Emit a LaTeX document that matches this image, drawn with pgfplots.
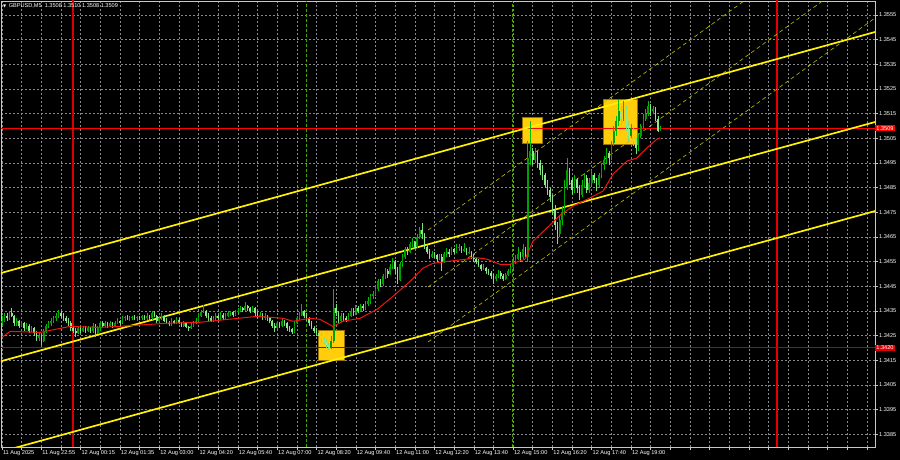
\documentclass[border=0pt]{standalone}
\usepackage{fontspec}
\setmainfont{Liberation Sans}
\newfontfamily\dejavu{DejaVu Sans}
\usepackage{pgfplots}
\usepackage{pgfplotstable}
\pgfplotsset{compat=1.18}
\definecolor{bullbody}{RGB}{0,160,0}
\definecolor{bearbody}{RGB}{140,235,140}
\definecolor{bullwick}{RGB}{0,190,0}
\definecolor{bearwick}{RGB}{120,225,120}
\definecolor{gridgray}{RGB}{135,135,140}
\definecolor{framegray}{RGB}{200,200,200}
\definecolor{boxfill}{RGB}{255,205,10}
\definecolor{boxdraw}{RGB}{150,115,0}
\definecolor{dashyel}{RGB}{190,190,0}
\definecolor{sessgreen}{RGB}{70,165,0}
\definecolor{lvlred}{RGB}{255,0,0}
\definecolor{lvldark}{RGB}{190,0,0}
\definecolor{vredA}{RGB}{215,0,0}
\definecolor{vredB}{RGB}{230,0,0}
\definecolor{tagred}{RGB}{225,0,0}
\definecolor{mared}{RGB}{240,20,20}

\pgfplotstableread{
n o h l c
0 1.3430 1.3433 1.3429 1.3431
1 1.3431 1.3434 1.34305 1.3433
2 1.3433 1.3434 1.3431 1.3432
3 1.3432 1.3435 1.34315 1.3434
4 1.3434 1.3436 1.34325 1.3433
5 1.3433 1.34335 1.3429 1.3430
6 1.3430 1.3432 1.3429 1.3431
7 1.3431 1.34315 1.3428 1.3429
8 1.3429 1.3431 1.34285 1.3430
9 1.3430 1.34305 1.3427 1.3428
10 1.3428 1.3430 1.34275 1.3429
11 1.3429 1.34295 1.3426 1.3427
12 1.3427 1.3429 1.34265 1.3428
13 1.3428 1.34285 1.3425 1.3426
14 1.3426 1.3427 1.3423 1.3424
15 1.3424 1.3426 1.3423 1.3425
16 1.3425 1.34255 1.3421 1.3423
17 1.3423 1.34275 1.34225 1.3427
18 1.3427 1.34295 1.3426 1.3429
19 1.3429 1.3431 1.3428 1.3430
20 1.3430 1.3432 1.3429 1.3431
21 1.3431 1.3433 1.3430 1.3432
22 1.3432 1.3434 1.3431 1.3433
23 1.3433 1.34355 1.3432 1.3434
24 1.3434 1.3435 1.3432 1.3433
25 1.3433 1.3434 1.3431 1.3432
26 1.3432 1.3433 1.3430 1.3431
27 1.3431 1.3432 1.3429 1.3430
28 1.3430 1.3431 1.3427 1.3428
29 1.3428 1.3429 1.3426 1.3427
30 1.3427 1.3428 1.34245 1.3426
31 1.3426 1.3429 1.34255 1.3428
32 1.3428 1.3429 1.3426 1.3427
33 1.3427 1.3429 1.34265 1.3428
34 1.3428 1.3429 1.3426 1.3427
35 1.3427 1.3429 1.34265 1.3428
36 1.3428 1.34285 1.3426 1.3427
37 1.3427 1.3430 1.3426 1.3429
38 1.3429 1.34295 1.34245 1.3426
39 1.3426 1.3429 1.34255 1.3428
40 1.3428 1.3431 1.3427 1.3430
41 1.3430 1.3431 1.3428 1.3429
42 1.3429 1.3431 1.34285 1.3430
43 1.3430 1.34305 1.3428 1.3429
44 1.3429 1.3431 1.34285 1.3430
45 1.3430 1.34305 1.3428 1.3429
46 1.3429 1.3431 1.34285 1.3430
47 1.3430 1.3432 1.34295 1.3431
48 1.3431 1.34315 1.3429 1.3430
49 1.3430 1.3433 1.34295 1.3432
50 1.3432 1.3433 1.3431 1.34325
51 1.34325 1.34335 1.34315 1.34320
52 1.34320 1.3433 1.3431 1.3432
53 1.3432 1.3433 1.34315 1.34325
54 1.34325 1.34335 1.34315 1.3432
55 1.3432 1.3433 1.3431 1.34325
56 1.34325 1.3433 1.34315 1.3432
57 1.3432 1.34335 1.34315 1.3433
58 1.3433 1.34335 1.34315 1.3432
59 1.3432 1.3434 1.34315 1.3433
60 1.3433 1.34335 1.3431 1.3432
61 1.3432 1.3435 1.34315 1.3434
62 1.3434 1.3435 1.34325 1.3433
63 1.3433 1.34335 1.3430 1.3431
64 1.3431 1.3433 1.34305 1.3432
65 1.3432 1.3434 1.34315 1.3433
66 1.3433 1.34335 1.34305 1.3431
67 1.3431 1.3432 1.34295 1.3430
68 1.3430 1.3431 1.3429 1.34295
69 1.34295 1.3432 1.3429 1.3431
70 1.3431 1.34315 1.34295 1.3430
71 1.3430 1.34325 1.34295 1.34315
72 1.34315 1.3432 1.34295 1.3430
73 1.3430 1.34305 1.34285 1.3429
74 1.3429 1.3431 1.34285 1.3430
75 1.3430 1.34305 1.3428 1.34285
76 1.34285 1.3429 1.3427 1.3428
77 1.3428 1.3430 1.34275 1.3429
78 1.3429 1.3431 1.34285 1.3430
79 1.3430 1.3432 1.34295 1.3431
80 1.3431 1.3434 1.34305 1.3433
81 1.3433 1.34355 1.34325 1.34345
82 1.34345 1.34375 1.3434 1.3435
83 1.3435 1.34355 1.3432 1.3433
84 1.3433 1.3434 1.3431 1.3432
85 1.3432 1.3433 1.34305 1.3431
86 1.3431 1.3433 1.34305 1.3432
87 1.3432 1.3434 1.34315 1.3433
88 1.3433 1.34335 1.3431 1.3432
89 1.3432 1.34345 1.34315 1.34335
90 1.34335 1.3434 1.34315 1.3432
91 1.3432 1.3434 1.34315 1.3433
92 1.3433 1.3435 1.34325 1.3434
93 1.3434 1.3435 1.3433 1.34345
94 1.34345 1.3435 1.34325 1.34335
95 1.34335 1.34355 1.3433 1.34345
96 1.34345 1.3436 1.3434 1.3435
97 1.3435 1.3437 1.34345 1.3436
98 1.3436 1.34365 1.34345 1.34355
99 1.34355 1.34385 1.3435 1.3437
100 1.3437 1.34375 1.3435 1.3436
101 1.3436 1.34365 1.3434 1.3435
102 1.3435 1.3437 1.34345 1.3436
103 1.3436 1.34365 1.3433 1.3434
104 1.3434 1.3435 1.3432 1.3433
105 1.3433 1.34345 1.34325 1.34335
106 1.34335 1.3434 1.34315 1.3432
107 1.3432 1.3434 1.34315 1.3433
108 1.3433 1.34335 1.3431 1.3432
109 1.3432 1.34325 1.3430 1.3431
110 1.3431 1.34315 1.3428 1.3429
111 1.3429 1.3430 1.34265 1.3428
112 1.3428 1.3431 1.34275 1.3430
113 1.3430 1.34305 1.3428 1.3429
114 1.3429 1.3432 1.34285 1.3431
115 1.3431 1.34315 1.3429 1.3430
116 1.3430 1.34305 1.3427 1.3428
117 1.3428 1.3429 1.34265 1.34275
118 1.34275 1.3428 1.34255 1.34265
119 1.34265 1.3431 1.3426 1.3430
120 1.3430 1.3433 1.34295 1.3432
121 1.3432 1.34345 1.34315 1.34335
122 1.34335 1.3438 1.3433 1.3435
123 1.3435 1.34355 1.3432 1.3433
124 1.3433 1.3434 1.3431 1.3432
125 1.3432 1.34325 1.3429 1.3430
126 1.3430 1.3431 1.34275 1.3428
127 1.3428 1.3429 1.3426 1.3427
128 1.3427 1.3428 1.3425 1.3426
129 1.3426 1.3427 1.3424 1.3425
130 1.3425 1.3426 1.34225 1.34235
131 1.34235 1.34245 1.34215 1.34225
132 1.34225 1.34235 1.3420 1.3421
133 1.3421 1.3422 1.34192 1.3420
134 1.3420 1.3425 1.34195 1.3423
135 1.3423 1.3444 1.3422 1.3436
136 1.3436 1.3438 1.3433 1.3434
137 1.3434 1.3435 1.3430 1.3431
138 1.3431 1.3434 1.34305 1.3433
139 1.3433 1.3434 1.3431 1.3432
140 1.3432 1.3433 1.34305 1.34315
141 1.34315 1.3434 1.3431 1.3433
142 1.3433 1.3436 1.34325 1.3435
143 1.3435 1.3436 1.3433 1.3434
144 1.3434 1.34375 1.34335 1.3436
145 1.3436 1.3437 1.3434 1.3435
146 1.3435 1.3438 1.34345 1.3437
147 1.3437 1.3438 1.3435 1.3436
148 1.3436 1.3439 1.34355 1.3438
149 1.3438 1.34405 1.3437 1.3439
150 1.3439 1.3442 1.3438 1.3441
151 1.3441 1.3443 1.3440 1.3442
152 1.3442 1.3445 1.3441 1.3444
153 1.3444 1.3448 1.3443 1.3447
154 1.3447 1.3448 1.34445 1.3446
155 1.3446 1.3450 1.3445 1.3449
156 1.3449 1.34525 1.3448 1.3451
157 1.3451 1.3452 1.34485 1.3450
158 1.3450 1.3454 1.34495 1.3453
159 1.3453 1.34565 1.3452 1.3455
160 1.3455 1.34555 1.3450 1.3452
161 1.3452 1.3453 1.3446 1.34475
162 1.34475 1.3455 1.3447 1.3454
163 1.3454 1.3458 1.3453 1.3457
164 1.3457 1.3461 1.3456 1.3460
165 1.3460 1.3461 1.34575 1.3459
166 1.3459 1.3463 1.34585 1.3462
167 1.3462 1.34645 1.3461 1.3463
168 1.3463 1.34635 1.3460 1.3461
169 1.3461 1.3466 1.34605 1.3465
170 1.3465 1.3469 1.3464 1.3468
171 1.3468 1.34705 1.3464 1.3466
172 1.3466 1.34665 1.3460 1.3461
173 1.3461 1.3462 1.3458 1.3459
174 1.3459 1.3460 1.3456 1.3457
175 1.3457 1.34595 1.34565 1.3458
176 1.3458 1.3459 1.34565 1.34575
177 1.34575 1.3458 1.3455 1.3456
178 1.3456 1.3458 1.34555 1.3457
179 1.3457 1.3458 1.3451 1.3455
180 1.3455 1.3459 1.34545 1.3458
181 1.3458 1.34605 1.3457 1.3459
182 1.3459 1.3460 1.3457 1.3458
183 1.3458 1.3461 1.34575 1.3460
184 1.3460 1.34605 1.3458 1.3459
185 1.3459 1.3462 1.34585 1.34605
186 1.34605 1.3462 1.34595 1.3461
187 1.3461 1.34615 1.34585 1.34595
188 1.34595 1.34625 1.3459 1.3460
189 1.3460 1.34605 1.34575 1.34585
190 1.34585 1.3461 1.3458 1.3459
191 1.3459 1.34595 1.3456 1.3457
192 1.3457 1.3458 1.3455 1.3456
193 1.3456 1.3457 1.3454 1.3455
194 1.3455 1.3456 1.3453 1.34535
195 1.34535 1.3454 1.3451 1.3452
196 1.3452 1.3454 1.34515 1.34525
197 1.34525 1.3453 1.3450 1.3451
198 1.3451 1.3452 1.34495 1.34505
199 1.34505 1.3451 1.3448 1.3449
200 1.3449 1.3450 1.3446 1.3448
201 1.3448 1.3450 1.3447 1.3449
202 1.3449 1.34515 1.34485 1.34505
203 1.34505 1.3451 1.3448 1.3449
204 1.3449 1.3450 1.3447 1.3448
205 1.3448 1.34505 1.34475 1.34495
206 1.34495 1.3452 1.3449 1.3451
207 1.3451 1.3454 1.34505 1.3453
208 1.3453 1.3456 1.3452 1.3455
209 1.3455 1.34575 1.3454 1.3456
210 1.3456 1.3461 1.34555 1.3458
211 1.3458 1.3459 1.3455 1.3457
212 1.3457 1.3462 1.3456 1.3460
213 1.3460 1.3461 1.3456 1.3457
214 1.3457 1.3504 1.3455 1.3497
215 1.3497 1.3512 1.3494 1.3500
216 1.3500 1.3501 1.3494 1.3496
217 1.3496 1.3501 1.3495 1.3499
218 1.3499 1.3500 1.3493 1.3495
219 1.3495 1.3496 1.3490 1.3492
220 1.3492 1.3494 1.3488 1.3490
221 1.3490 1.3491 1.3485 1.3486
222 1.3486 1.3488 1.3482 1.3484
223 1.3484 1.3485 1.3479 1.3481
224 1.3481 1.3482 1.3474 1.3476
225 1.3476 1.3478 1.3468 1.3470
226 1.3470 1.3471 1.3462 1.3466
227 1.3466 1.3474 1.3465 1.3472
228 1.3472 1.3477 1.3470 1.3475
229 1.3475 1.3488 1.3474 1.3485
230 1.3485 1.3497 1.3484 1.3492
231 1.3492 1.3493 1.3486 1.3488
232 1.3488 1.3489 1.3482 1.3484
233 1.3484 1.3490 1.3483 1.3488
234 1.3488 1.3489 1.3483 1.3485
235 1.3485 1.3486 1.3480 1.3482
236 1.3482 1.3488 1.3481 1.3486
237 1.3486 1.3491 1.3485 1.3489
238 1.3489 1.3490 1.3483 1.3484
239 1.3484 1.3489 1.3483 1.3487
240 1.3487 1.3492 1.3486 1.3490
241 1.3490 1.3491 1.3487 1.3488
242 1.3488 1.3489 1.34835 1.3486
243 1.3486 1.3491 1.3485 1.3490
244 1.3490 1.3495 1.3489 1.3494
245 1.3494 1.3498 1.3492 1.3496
246 1.3496 1.3501 1.3495 1.3499
247 1.3499 1.3500 1.3494 1.3497
248 1.3497 1.3504 1.3496 1.3503
249 1.3503 1.3510 1.3502 1.3508
250 1.3508 1.3514 1.3506 1.3512
251 1.3512 1.3521 1.3510 1.3516
252 1.3516 1.3518 1.3510 1.3513
253 1.3513 1.3520 1.3512 1.3517
254 1.3517 1.3518 1.3508 1.3510
255 1.3510 1.3512 1.3504 1.3506
256 1.3506 1.3511 1.3505 1.3509
257 1.3509 1.3510 1.3502 1.3504
258 1.3504 1.3505 1.34985 1.3501
259 1.3501 1.3507 1.3500 1.3506
260 1.3506 1.3511 1.3505 1.3510
261 1.3510 1.3515 1.3509 1.3513
262 1.3513 1.3517 1.3512 1.3515
263 1.3515 1.3520 1.3514 1.3518
264 1.3518 1.3519 1.3514 1.3516
265 1.3516 1.3518 1.3515 1.3517
266 1.3517 1.35175 1.3512 1.3513
267 1.3513 1.3514 1.35075 1.3508
268 1.3508 1.3510 1.3508 1.3509
}\candles

\begin{document}
\begin{tikzpicture}
\useasboundingbox (0,0) rectangle (900pt,460pt);
\fill[black] (0,0) rectangle (900pt,460pt);
\begin{axis}[
  at={(1pt,13pt)}, anchor=south west,
  scale only axis, width=874pt, height=446pt,
  xmin=-0.41, xmax=355.3,
  ymin=1.337982, ymax=1.356068,
  clip mode=individual,
  no markers,
  axis background/.style={fill=black},
  axis line style={draw=framegray, line width=0.7pt},
  /pgf/number format/assume math mode=true,
  xtick pos=left, ytick pos=right,
  xticklabel pos=left, yticklabel pos=right,
  tick align=outside,
  major tick length=3pt, minor tick length=3pt,
  tick style={draw=framegray, line width=0.5pt},
  ytick={1.3385,1.3395,1.3405,1.3415,1.3425,1.3435,1.3445,1.3455,1.3465,1.3475,1.3485,1.3495,1.3505,1.3515,1.3525,1.3535,1.3545,1.3555},
  yticklabel style={font=\fontsize{5.6}{6.5}\selectfont, text=white, inner sep=1pt,
    /pgf/number format/.cd, fixed, fixed zerofill, precision=4, 1000 sep={}},
  xtick={0,16,...,352},
  minor xtick={8,24,...,344},
  xticklabels={11 Aug 2025,11 Aug 22:55,12 Aug 00:15,12 Aug 01:35,12 Aug 03:00,12 Aug 04:20,12 Aug 05:40,12 Aug 07:00,12 Aug 08:20,12 Aug 09:40,12 Aug 11:00,12 Aug 12:20,12 Aug 13:40,12 Aug 15:00,12 Aug 16:20,12 Aug 17:40,12 Aug 19:00,,,,,,},
  xticklabel style={font=\fontsize{5.6}{6.5}\selectfont, text=white, anchor=north west, inner sep=0.8pt},
  grid=both,
  major grid style={draw=gridgray, dash pattern=on 2pt off 2pt, line width=0.5pt},
  minor grid style={draw=gridgray, dash pattern=on 2pt off 2pt, line width=0.5pt},
  candle/.style={draw=none, mark=none, forget plot},
]
% vertical marker bands (thin filled strips)
\addplot[fill=vredA, draw=none, forget plot] coordinates {(28.62,1.33790) (29.18,1.33790) (29.18,1.35610) (28.62,1.35610)} --cycle;
\addplot[fill=vredB, draw=none, forget plot] coordinates {(315.12,1.33790) (315.68,1.33790) (315.68,1.35610) (315.12,1.35610)} --cycle;
% highlight boxes
\addplot[fill=boxfill, draw=boxdraw, line width=0.6pt] coordinates {(128.6,1.341510) (139.2,1.341510) (139.2,1.342727) (128.6,1.342727)} --cycle;
\addplot[fill=boxfill, draw=boxdraw, line width=0.6pt] coordinates {(211.6,1.350310) (219.8,1.350310) (219.8,1.351364) (211.6,1.351364)} --cycle;
\addplot[fill=boxfill, draw=boxdraw, line width=0.6pt] coordinates {(244.6,1.350269) (258.4,1.350269) (258.4,1.352094) (244.6,1.352094)} --cycle;
% session markers
\addplot[sessgreen, line width=1.1pt, dash pattern=on 3pt off 2pt, forget plot] coordinates {(124.1,1.33800) (124.1,1.35605)};
\addplot[sessgreen, line width=1.1pt, dash pattern=on 3pt off 2pt, forget plot] coordinates {(207.6,1.33800) (207.6,1.35605)};
% dashed regression channel
\addplot[dashyel, line width=0.6pt, dash pattern=on 4pt off 3pt] coordinates {(173.4,1.346781) (310,1.356648)};
\addplot[dashyel, line width=0.6pt, dash pattern=on 4pt off 3pt] coordinates {(173.4,1.344470) (355.3,1.357609)};
\addplot[dashyel, line width=0.6pt, dash pattern=on 4pt off 3pt] coordinates {(173.4,1.342240) (355.3,1.355379)};
% level lines
\addplot[lvlred, line width=0.9pt] coordinates {(-1,1.3509) (356,1.3509)};
\addplot[lvldark, line width=1.1pt] coordinates {(-1,1.3420) (356,1.3420)};
% yellow channel
\addplot[yellow, line width=1.7pt] coordinates {(-0.81,1.345026) (355.3,1.354810)};
\addplot[yellow, line width=1.7pt] coordinates {(-0.81,1.341449) (355.3,1.351160)};
\addplot[yellow, line width=1.7pt] coordinates {(-0.81,1.337780) (355.3,1.347550)};
% candle wicks
\addplot[candle, restrict expr to domain={\thisrow{c}-\thisrow{o}}{0:1},
  error bars/.cd, y dir=plus, y explicit, error mark=none,
  error bar style={draw=bullwick, line width=0.7pt}]
  table[x=n, y=l, y error expr=\thisrow{h}-\thisrow{l}] {\candles};
\addplot[candle, restrict expr to domain={\thisrow{o}-\thisrow{c}}{0.000001:1},
  error bars/.cd, y dir=plus, y explicit, error mark=none,
  error bar style={draw=bearwick, line width=0.7pt}]
  table[x=n, y=l, y error expr=\thisrow{h}-\thisrow{l}] {\candles};
% candle bodies
\addplot[candle, restrict expr to domain={\thisrow{c}-\thisrow{o}}{0:1},
  error bars/.cd, y dir=plus, y explicit, error mark=none,
  error bar style={draw=bullbody, line width=1.6pt}]
  table[x=n, y=o, y error expr=\thisrow{c}-\thisrow{o}] {\candles};
\addplot[candle, restrict expr to domain={\thisrow{o}-\thisrow{c}}{0.000001:1},
  error bars/.cd, y dir=plus, y explicit, error mark=none,
  error bar style={draw=bearbody, line width=1.6pt}]
  table[x=n, y=c, y error expr=\thisrow{o}-\thisrow{c}] {\candles};
% moving average
\addplot[mared, line width=1pt] coordinates {
(0,1.34243) (3.3,1.34267) (15.5,1.34263) (27.7,1.34287) (39.9,1.34283) (53.3,1.34291)
(67.2,1.34300) (80.6,1.34304) (103.8,1.34328) (114.4,1.34320) (118.4,1.34308) (125.4,1.34320)
(129.4,1.34316) (134.7,1.34287) (138.8,1.34308) (145.7,1.34320) (152.6,1.34356) (159.1,1.34409)
(166.1,1.34470) (171.3,1.34523) (175.4,1.34543) (182.3,1.34552) (189.3,1.34560) (191.7,1.34568)
(197.4,1.34560) (202.7,1.34539) (206.8,1.34539) (212.9,1.34560) (216.1,1.34633) (223.0,1.34698)
(227.1,1.34738) (232.4,1.34775) (239.3,1.34808) (244.6,1.34836) (248.7,1.34905) (254.4,1.34958)
(258.4,1.34970) (262.5,1.35011) (266.6,1.35047) (268,1.35052)};
% price tags on the right
\node[fill=lvlred, text=white, anchor=west, inner xsep=1.2pt, inner ysep=1pt, font=\fontsize{5.6}{6.5}\selectfont]
  at ({rel axis cs:1,0} |- {axis cs:0,1.3509}) {1.3509};
\node[fill=tagred, text=white, anchor=west, inner xsep=1.2pt, inner ysep=1pt, font=\fontsize{5.6}{6.5}\selectfont]
  at ({rel axis cs:1,0} |- {axis cs:0,1.3420}) {1.3420};
\end{axis}
\node[anchor=west, text=white, inner sep=0pt, font=\fontsize{5.6}{6.5}\selectfont] at (3pt,454.3pt)
  {{\dejavu\fontsize{4}{4}\selectfont ▼}\hspace{2.5pt}GBPUSD,M5\hspace{3pt}1.3508 1.3510 1.3508 1.3509};
\end{tikzpicture}
\end{document}
